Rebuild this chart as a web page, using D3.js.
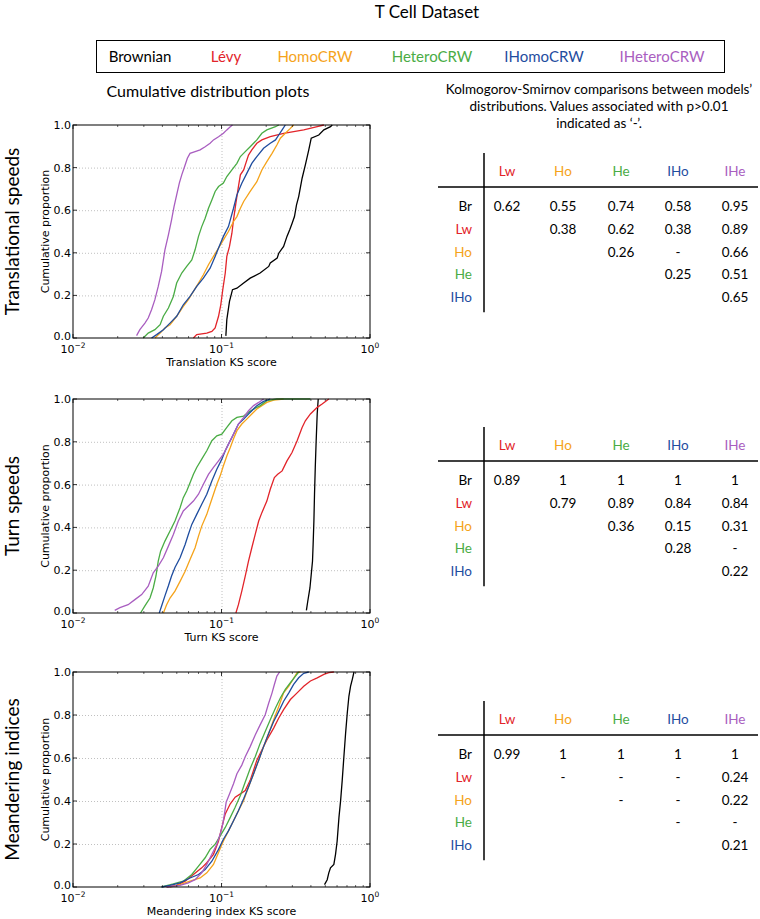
<!DOCTYPE html>
<html><head><meta charset="utf-8">
<script src="https://cdn.jsdelivr.net/npm/d3@7"></script>
<style>body{margin:0;background:#fff}</style>
</head><body><svg id="c" width="760" height="919"></svg>
<script>
// ---------- data ----------
const models = ["Brownian","Lévy","HomoCRW","HeteroCRW","IHomoCRW","IHeteroCRW"];
const modelColors = ["#000000","#e2242a","#f5a31a","#4aac45","#1f4d9f","#a95ec0"];
const rowLabels = ["Br","Lw","Ho","He","IHo"];
const colLabels = ["Lw","Ho","He","IHo","IHe"];
const rowColorIdx = [0,1,2,3,4];
const colColorIdx = [1,2,3,4,5];
const panelTitles = ["Translational speeds","Turn speeds","Meandering indices"];
const xLabels = ["Translation KS score","Turn KS score","Meandering index KS score"];
const yTicks = [0,0.2,0.4,0.6,0.8,1.0];
const xTickExp = [-2,-1,0];

// KS tables (rows Br..IHo, cols Lw..IHe)
const ksTrans = [["0.62","0.55","0.74","0.58","0.95"],["","0.38","0.62","0.38","0.89"],["","","0.26","-","0.66"],["","","","0.25","0.51"],["","","","","0.65"]];
const ksTurn = [["0.89","1","1","1","1"],["","0.79","0.89","0.84","0.84"],["","","0.36","0.15","0.31"],["","","","0.28","-"],["","","","","0.22"]];
const ksMeander = [["0.99","1","1","1","1"],["","-","-","-","0.24"],["","","-","-","0.22"],["","","","-","-"],["","","","","0.21"]];

// Cumulative distributions: [KS score, cumulative proportion]
const transBrownian = [[0.107,0.01],[0.1086,0.086],[0.1132,0.172],[0.1186,0.227],[0.127,0.234],[0.141,0.258],[0.156,0.281],[0.182,0.305],[0.208,0.336],[0.213,0.352],[0.237,0.375],[0.243,0.398],[0.262,0.43],[0.276,0.477],[0.288,0.508],[0.299,0.539],[0.31,0.57],[0.32,0.625],[0.331,0.664],[0.349,0.75],[0.367,0.813],[0.387,0.883],[0.402,0.938],[0.452,0.953],[0.489,0.977],[0.542,0.992],[0.557,1.0]];
const transLevy = [[0.0647,0],[0.0681,0.016],[0.0796,0.023],[0.0861,0.031],[0.0906,0.047],[0.0955,0.102],[0.0989,0.156],[0.102,0.227],[0.106,0.305],[0.1086,0.383],[0.1132,0.43],[0.1175,0.492],[0.1205,0.555],[0.125,0.633],[0.130,0.711],[0.134,0.766],[0.141,0.789],[0.147,0.828],[0.152,0.859],[0.160,0.883],[0.173,0.914],[0.187,0.93],[0.213,0.945],[0.262,0.961],[0.358,0.977],[0.441,0.992],[0.489,1.0]];
const transHomo = [[0.0356,0],[0.0386,0.023],[0.0416,0.047],[0.045,0.0625],[0.0499,0.102],[0.0553,0.148],[0.0598,0.18],[0.0647,0.219],[0.070,0.258],[0.0755,0.297],[0.0817,0.344],[0.0883,0.383],[0.0955,0.422],[0.103,0.461],[0.1114,0.5],[0.1205,0.547],[0.127,0.57],[0.134,0.609],[0.141,0.641],[0.156,0.688],[0.173,0.734],[0.187,0.789],[0.202,0.828],[0.219,0.867],[0.236,0.906],[0.249,0.938],[0.269,0.961],[0.291,0.984],[0.306,1.0]];
const transHetero = [[0.0297,0],[0.0321,0.023],[0.0356,0.039],[0.0386,0.0625],[0.0406,0.102],[0.0439,0.141],[0.0474,0.195],[0.0499,0.258],[0.054,0.305],[0.0583,0.336],[0.0631,0.367],[0.0664,0.414],[0.070,0.477],[0.0736,0.523],[0.0776,0.5625],[0.0817,0.609],[0.0861,0.648],[0.0906,0.688],[0.0955,0.711],[0.103,0.727],[0.1086,0.758],[0.1175,0.789],[0.127,0.82],[0.134,0.852],[0.1445,0.875],[0.156,0.898],[0.173,0.93],[0.187,0.961],[0.202,0.977],[0.231,0.992],[0.243,1.0]];
const transIHomo = [[0.0338,0],[0.0366,0.016],[0.0406,0.039],[0.045,0.07],[0.0499,0.102],[0.0553,0.156],[0.0614,0.195],[0.0681,0.242],[0.0755,0.281],[0.0838,0.328],[0.0906,0.383],[0.0955,0.422],[0.103,0.477],[0.1114,0.523],[0.1205,0.609],[0.127,0.672],[0.137,0.727],[0.148,0.773],[0.160,0.82],[0.173,0.852],[0.192,0.891],[0.213,0.914],[0.231,0.93],[0.243,0.953],[0.256,0.977],[0.269,1.0]];
const transIHetero = [[0.0268,0.011],[0.0282,0.039],[0.0305,0.07],[0.0321,0.094],[0.0338,0.133],[0.0356,0.18],[0.0375,0.242],[0.0395,0.3125],[0.0416,0.414],[0.0439,0.484],[0.0461,0.555],[0.0479,0.617],[0.0499,0.672],[0.052,0.727],[0.054,0.766],[0.0569,0.8125],[0.0589,0.844],[0.0614,0.867],[0.0664,0.875],[0.0718,0.883],[0.0776,0.898],[0.0838,0.914],[0.0883,0.93],[0.0955,0.945],[0.103,0.961],[0.1086,0.977],[0.1146,0.992],[0.1186,1.0]];

const turnBrownian = [[0.373,0.0125],[0.381,0.055],[0.394,0.117],[0.402,0.18],[0.410,0.242],[0.414,0.32],[0.419,0.43],[0.423,0.555],[0.428,0.68],[0.434,0.805],[0.441,0.93],[0.448,1.0]];
const turnLevy = [[0.125,0],[0.130,0.039],[0.137,0.102],[0.1445,0.172],[0.152,0.242],[0.160,0.305],[0.1687,0.367],[0.178,0.43],[0.187,0.469],[0.202,0.523],[0.213,0.578],[0.227,0.633],[0.239,0.648],[0.256,0.664],[0.276,0.711],[0.2985,0.75],[0.323,0.805],[0.349,0.867],[0.367,0.898],[0.397,0.93],[0.441,0.961],[0.476,0.977],[0.528,1.0]];
const turnHomo = [[0.0406,0],[0.0427,0.039],[0.045,0.07],[0.0486,0.102],[0.0526,0.148],[0.0569,0.195],[0.0614,0.25],[0.0664,0.305],[0.070,0.359],[0.0736,0.406],[0.0796,0.461],[0.0838,0.508],[0.0883,0.555],[0.093,0.602],[0.098,0.641],[0.103,0.688],[0.1086,0.734],[0.1146,0.773],[0.1205,0.814],[0.127,0.852],[0.137,0.883],[0.148,0.906],[0.160,0.93],[0.173,0.953],[0.187,0.969],[0.202,0.984],[0.2245,0.995],[0.262,1.0]];
const turnHetero = [[0.0285,0],[0.0305,0.033],[0.033,0.07],[0.0347,0.117],[0.0362,0.173],[0.0375,0.242],[0.0389,0.289],[0.0416,0.336],[0.045,0.383],[0.0486,0.43],[0.0526,0.492],[0.0553,0.539],[0.0583,0.57],[0.0614,0.609],[0.0647,0.648],[0.0681,0.68],[0.0736,0.719],[0.0796,0.758],[0.0861,0.805],[0.093,0.828],[0.1005,0.836],[0.1086,0.867],[0.1175,0.898],[0.127,0.914],[0.141,0.92],[0.152,0.938],[0.1645,0.953],[0.1824,0.969],[0.202,0.992],[0.236,1.0],[0.397,1.0]];
const turnIHomo = [[0.0381,0],[0.0395,0.033],[0.0416,0.08],[0.0439,0.127],[0.0461,0.173],[0.0486,0.2125],[0.0526,0.258],[0.0569,0.32],[0.0598,0.367],[0.0631,0.414],[0.0681,0.461],[0.0736,0.508],[0.0796,0.555],[0.0861,0.617],[0.093,0.672],[0.1005,0.719],[0.106,0.758],[0.1114,0.789],[0.1175,0.82],[0.1236,0.852],[0.130,0.883],[0.141,0.906],[0.152,0.93],[0.160,0.945],[0.173,0.969],[0.192,0.989],[0.213,1.0]];
const turnIHetero = [[0.0191,0.0125],[0.0207,0.025],[0.0235,0.039],[0.0261,0.0625],[0.029,0.086],[0.0321,0.125],[0.0347,0.1875],[0.0375,0.219],[0.0406,0.258],[0.0439,0.3125],[0.0474,0.367],[0.0512,0.43],[0.0553,0.477],[0.0598,0.5],[0.0647,0.523],[0.070,0.555],[0.0755,0.602],[0.0817,0.648],[0.0883,0.68],[0.0955,0.711],[0.103,0.742],[0.1114,0.789],[0.1205,0.836],[0.130,0.883],[0.141,0.914],[0.152,0.945],[0.1645,0.969],[0.178,0.984],[0.192,1.0]];

const meanBrownian = [[0.494,0.011],[0.515,0.034],[0.528,0.066],[0.542,0.089],[0.571,0.105],[0.586,0.152],[0.601,0.214],[0.618,0.324],[0.634,0.402],[0.650,0.496],[0.667,0.606],[0.685,0.715],[0.703,0.809],[0.721,0.887],[0.740,0.934],[0.760,0.966],[0.780,1.0]];
const meanLevy = [[0.0427,0],[0.0499,0.008],[0.0569,0.027],[0.0647,0.058],[0.0736,0.089],[0.0796,0.113],[0.0883,0.152],[0.0955,0.214],[0.1005,0.277],[0.106,0.34],[0.1146,0.387],[0.1236,0.418],[0.134,0.433],[0.1445,0.449],[0.156,0.496],[0.1645,0.543],[0.173,0.59],[0.187,0.637],[0.202,0.684],[0.2245,0.739],[0.243,0.786],[0.262,0.825],[0.291,0.872],[0.323,0.903],[0.358,0.934],[0.397,0.958],[0.441,0.973],[0.489,0.989],[0.528,0.997],[0.571,1.0]];
const meanHomo = [[0.045,0],[0.0526,0.011],[0.0614,0.027],[0.0718,0.042],[0.0796,0.066],[0.0883,0.105],[0.0955,0.16],[0.103,0.214],[0.1114,0.261],[0.1205,0.308],[0.130,0.355],[0.141,0.402],[0.152,0.465],[0.1645,0.527],[0.178,0.59],[0.192,0.653],[0.208,0.715],[0.2245,0.778],[0.243,0.84],[0.262,0.903],[0.284,0.934],[0.2985,0.958],[0.323,0.997],[0.340,1.0]];
const meanHetero = [[0.0395,0],[0.0474,0.014],[0.0553,0.027],[0.0631,0.058],[0.070,0.097],[0.0776,0.136],[0.0838,0.175],[0.0906,0.199],[0.098,0.238],[0.106,0.277],[0.1146,0.324],[0.1236,0.371],[0.134,0.426],[0.1445,0.488],[0.156,0.551],[0.1687,0.606],[0.182,0.668],[0.197,0.723],[0.213,0.778],[0.231,0.833],[0.249,0.879],[0.269,0.919],[0.291,0.95],[0.315,0.981],[0.331,1.0]];
const meanIHomo = [[0.0395,0],[0.045,0.008],[0.0526,0.019],[0.0614,0.042],[0.070,0.058],[0.0776,0.081],[0.0861,0.12],[0.0955,0.175],[0.103,0.222],[0.1114,0.261],[0.1205,0.308],[0.130,0.355],[0.141,0.41],[0.152,0.465],[0.1645,0.527],[0.178,0.59],[0.192,0.653],[0.208,0.715],[0.2245,0.77],[0.243,0.817],[0.262,0.864],[0.284,0.903],[0.306,0.942],[0.331,0.973],[0.358,0.994],[0.387,1.0]];
const meanIHetero = [[0.0427,0],[0.0526,0.008],[0.0598,0.019],[0.0664,0.034],[0.0736,0.066],[0.0796,0.105],[0.0861,0.152],[0.093,0.199],[0.098,0.246],[0.102,0.293],[0.1047,0.34],[0.1075,0.394],[0.1132,0.433],[0.1205,0.48],[0.127,0.527],[0.137,0.567],[0.1445,0.606],[0.156,0.653],[0.1687,0.707],[0.182,0.754],[0.197,0.801],[0.208,0.856],[0.219,0.903],[0.227,0.942],[0.236,0.981],[0.246,1.0]];

const panelSeries = [
  [transBrownian,transLevy,transHomo,transHetero,transIHomo,transIHetero],
  [turnBrownian,turnLevy,turnHomo,turnHetero,turnIHomo,turnIHetero],
  [meanBrownian,meanLevy,meanHomo,meanHetero,meanIHomo,meanIHetero]
];
const panelTables = [ksTrans, ksTurn, ksMeander];

// ---------- layout ----------
const svg = d3.select("#c");
const MY = "Lato, 'Open Sans', sans-serif";
const MPL = "'DejaVu Sans', sans-serif";
const plotL = 73, plotR = 370;
const panelTop = [125, 399, 672], panelBot = [338, 613, 887];
const tableVTop = [153, 427, 701];

svg.append("text").attr("x",427).attr("y",18).attr("text-anchor","middle")
  .attr("font-family",MY).attr("font-size",17).text("T Cell Dataset");

// legend
svg.append("rect").attr("x",96.5).attr("y",40.5).attr("width",628).attr("height",32)
  .attr("fill","none").attr("stroke","#000").attr("stroke-width",1);
const legX = [140,226,315,432,544,662];
models.forEach((m,i)=>{
  svg.append("text").attr("x",legX[i]).attr("y",61.5).attr("text-anchor","middle")
    .attr("font-family",MY).attr("font-size",15).attr("fill",modelColors[i]).text(m);
});

svg.append("text").attr("x",208).attr("y",97).attr("text-anchor","middle")
  .attr("font-family",MY).attr("font-size",16).text("Cumulative distribution plots");
["Kolmogorov-Smirnov comparisons between models’","distributions. Values associated with p>0.01","indicated as ‘-’."]
  .forEach((t,i)=>svg.append("text").attr("x",599).attr("y",94+i*17).attr("text-anchor","middle")
    .attr("font-family",MY).attr("font-size",13.5).text(t));

const x = d3.scaleLog().domain([0.01,1]).range([plotL,plotR]);

panelSeries.forEach((series,p)=>{
  const y = d3.scaleLinear().domain([0,1]).range([panelBot[p],panelTop[p]]);
  const g = svg.append("g");
  // grid
  g.selectAll(".gy").data(yTicks.slice(1,-1)).join("line")
    .attr("x1",plotL).attr("x2",plotR).attr("y1",d=>y(d)+0.5).attr("y2",d=>y(d)+0.5)
    .attr("stroke","#b0b0b0").attr("stroke-width",0.8).attr("stroke-dasharray","1,2");
  g.append("line").attr("x1",x(0.1)+0.5).attr("x2",x(0.1)+0.5).attr("y1",y(0)).attr("y2",y(1))
    .attr("stroke","#b0b0b0").attr("stroke-width",0.8).attr("stroke-dasharray","1,2");
  // curves
  const line = d3.line().x(d=>x(d[0])).y(d=>y(d[1]));
  series.forEach((s,i)=>{
    g.append("path").attr("d",line(s)).attr("fill","none")
      .attr("stroke",modelColors[i]).attr("stroke-width",1.3);
  });
  // minor/major ticks inside
  const minors = [];
  for (let e=-2;e<0;e++) for (let k=2;k<10;k++) minors.push(k*Math.pow(10,e));
  minors.forEach(v=>{
    g.append("line").attr("x1",x(v)).attr("x2",x(v)).attr("y1",y(0)).attr("y2",y(0)-2).attr("stroke","#000").attr("stroke-width",0.6);
    g.append("line").attr("x1",x(v)).attr("x2",x(v)).attr("y1",y(1)).attr("y2",y(1)+2).attr("stroke","#000").attr("stroke-width",0.6);
  });
  xTickExp.forEach(e=>{
    const v=Math.pow(10,e);
    g.append("line").attr("x1",x(v)).attr("x2",x(v)).attr("y1",y(0)).attr("y2",y(0)-4).attr("stroke","#000").attr("stroke-width",0.8);
    g.append("line").attr("x1",x(v)).attr("x2",x(v)).attr("y1",y(1)).attr("y2",y(1)+4).attr("stroke","#000").attr("stroke-width",0.8);
    const t = g.append("text").attr("x",x(v)).attr("y",y(0)+15).attr("text-anchor","middle")
      .attr("font-family",MPL).attr("font-size",11);
    t.append("tspan").text("10");
    t.append("tspan").attr("dy",-5).attr("font-size",7.5).text(e===0?"0":"−"+(-e));
  });
  yTicks.forEach(v=>{
    g.append("line").attr("x1",plotL).attr("x2",plotL+4).attr("y1",y(v)).attr("y2",y(v)).attr("stroke","#000").attr("stroke-width",0.8);
    g.append("line").attr("x1",plotR).attr("x2",plotR-4).attr("y1",y(v)).attr("y2",y(v)).attr("stroke","#000").attr("stroke-width",0.8);
    g.append("text").attr("x",plotL-2).attr("y",v===0 ? y(v)+1.5 : y(v)+4).attr("text-anchor","end")
      .attr("font-family",MPL).attr("font-size",11).text(v.toFixed(1));
  });
  // frame
  g.append("rect").attr("x",plotL).attr("y",y(1)).attr("width",plotR-plotL).attr("height",y(0)-y(1))
    .attr("fill","none").attr("stroke","#000").attr("stroke-width",1);
  // labels
  g.append("text").attr("x",(plotL+plotR)/2).attr("y",y(0)+28).attr("text-anchor","middle")
    .attr("font-family",MPL).attr("font-size",11).text(xLabels[p]);
  const cy=(y(0)+y(1))/2;
  g.append("text").attr("transform",`translate(49,${cy}) rotate(-90)`).attr("text-anchor","middle")
    .attr("font-family",MPL).attr("font-size",11).text("Cumulative proportion");
  g.append("text").attr("transform",`translate(19,${cy}) rotate(-90)`).attr("text-anchor","middle")
    .attr("font-family",MY).attr("font-size",19).text(panelTitles[p]);

  // table
  const tab = panelTables[p];
  const vt = tableVTop[p];
  const colX = [507,563,621,678,735];
  const headY = vt+18, hLineY = vt+34, row0 = vt+53, rowStep = 22.8;
  const tg = svg.append("g").attr("font-family",MY).attr("font-size",13.5);
  tg.append("line").attr("x1",484).attr("x2",484).attr("y1",vt).attr("y2",row0+4*rowStep+15)
    .attr("stroke","#000").attr("stroke-width",1.5);
  tg.append("line").attr("x1",438).attr("x2",758).attr("y1",hLineY).attr("y2",hLineY)
    .attr("stroke","#000").attr("stroke-width",1.5);
  colLabels.forEach((c,j)=>tg.append("text").attr("x",colX[j]).attr("y",headY+5).attr("text-anchor","middle")
    .attr("fill",modelColors[colColorIdx[j]]).text(c));
  rowLabels.forEach((r,i)=>{
    tg.append("text").attr("x",472).attr("y",row0+i*rowStep+5).attr("text-anchor","end")
      .attr("fill",modelColors[rowColorIdx[i]]).text(r);
    tab[i].forEach((v,j)=>{ if(v) tg.append("text").attr("x",colX[j]).attr("y",row0+i*rowStep+5)
      .attr("text-anchor","middle").text(v); });
  });
});
</script></body></html>
